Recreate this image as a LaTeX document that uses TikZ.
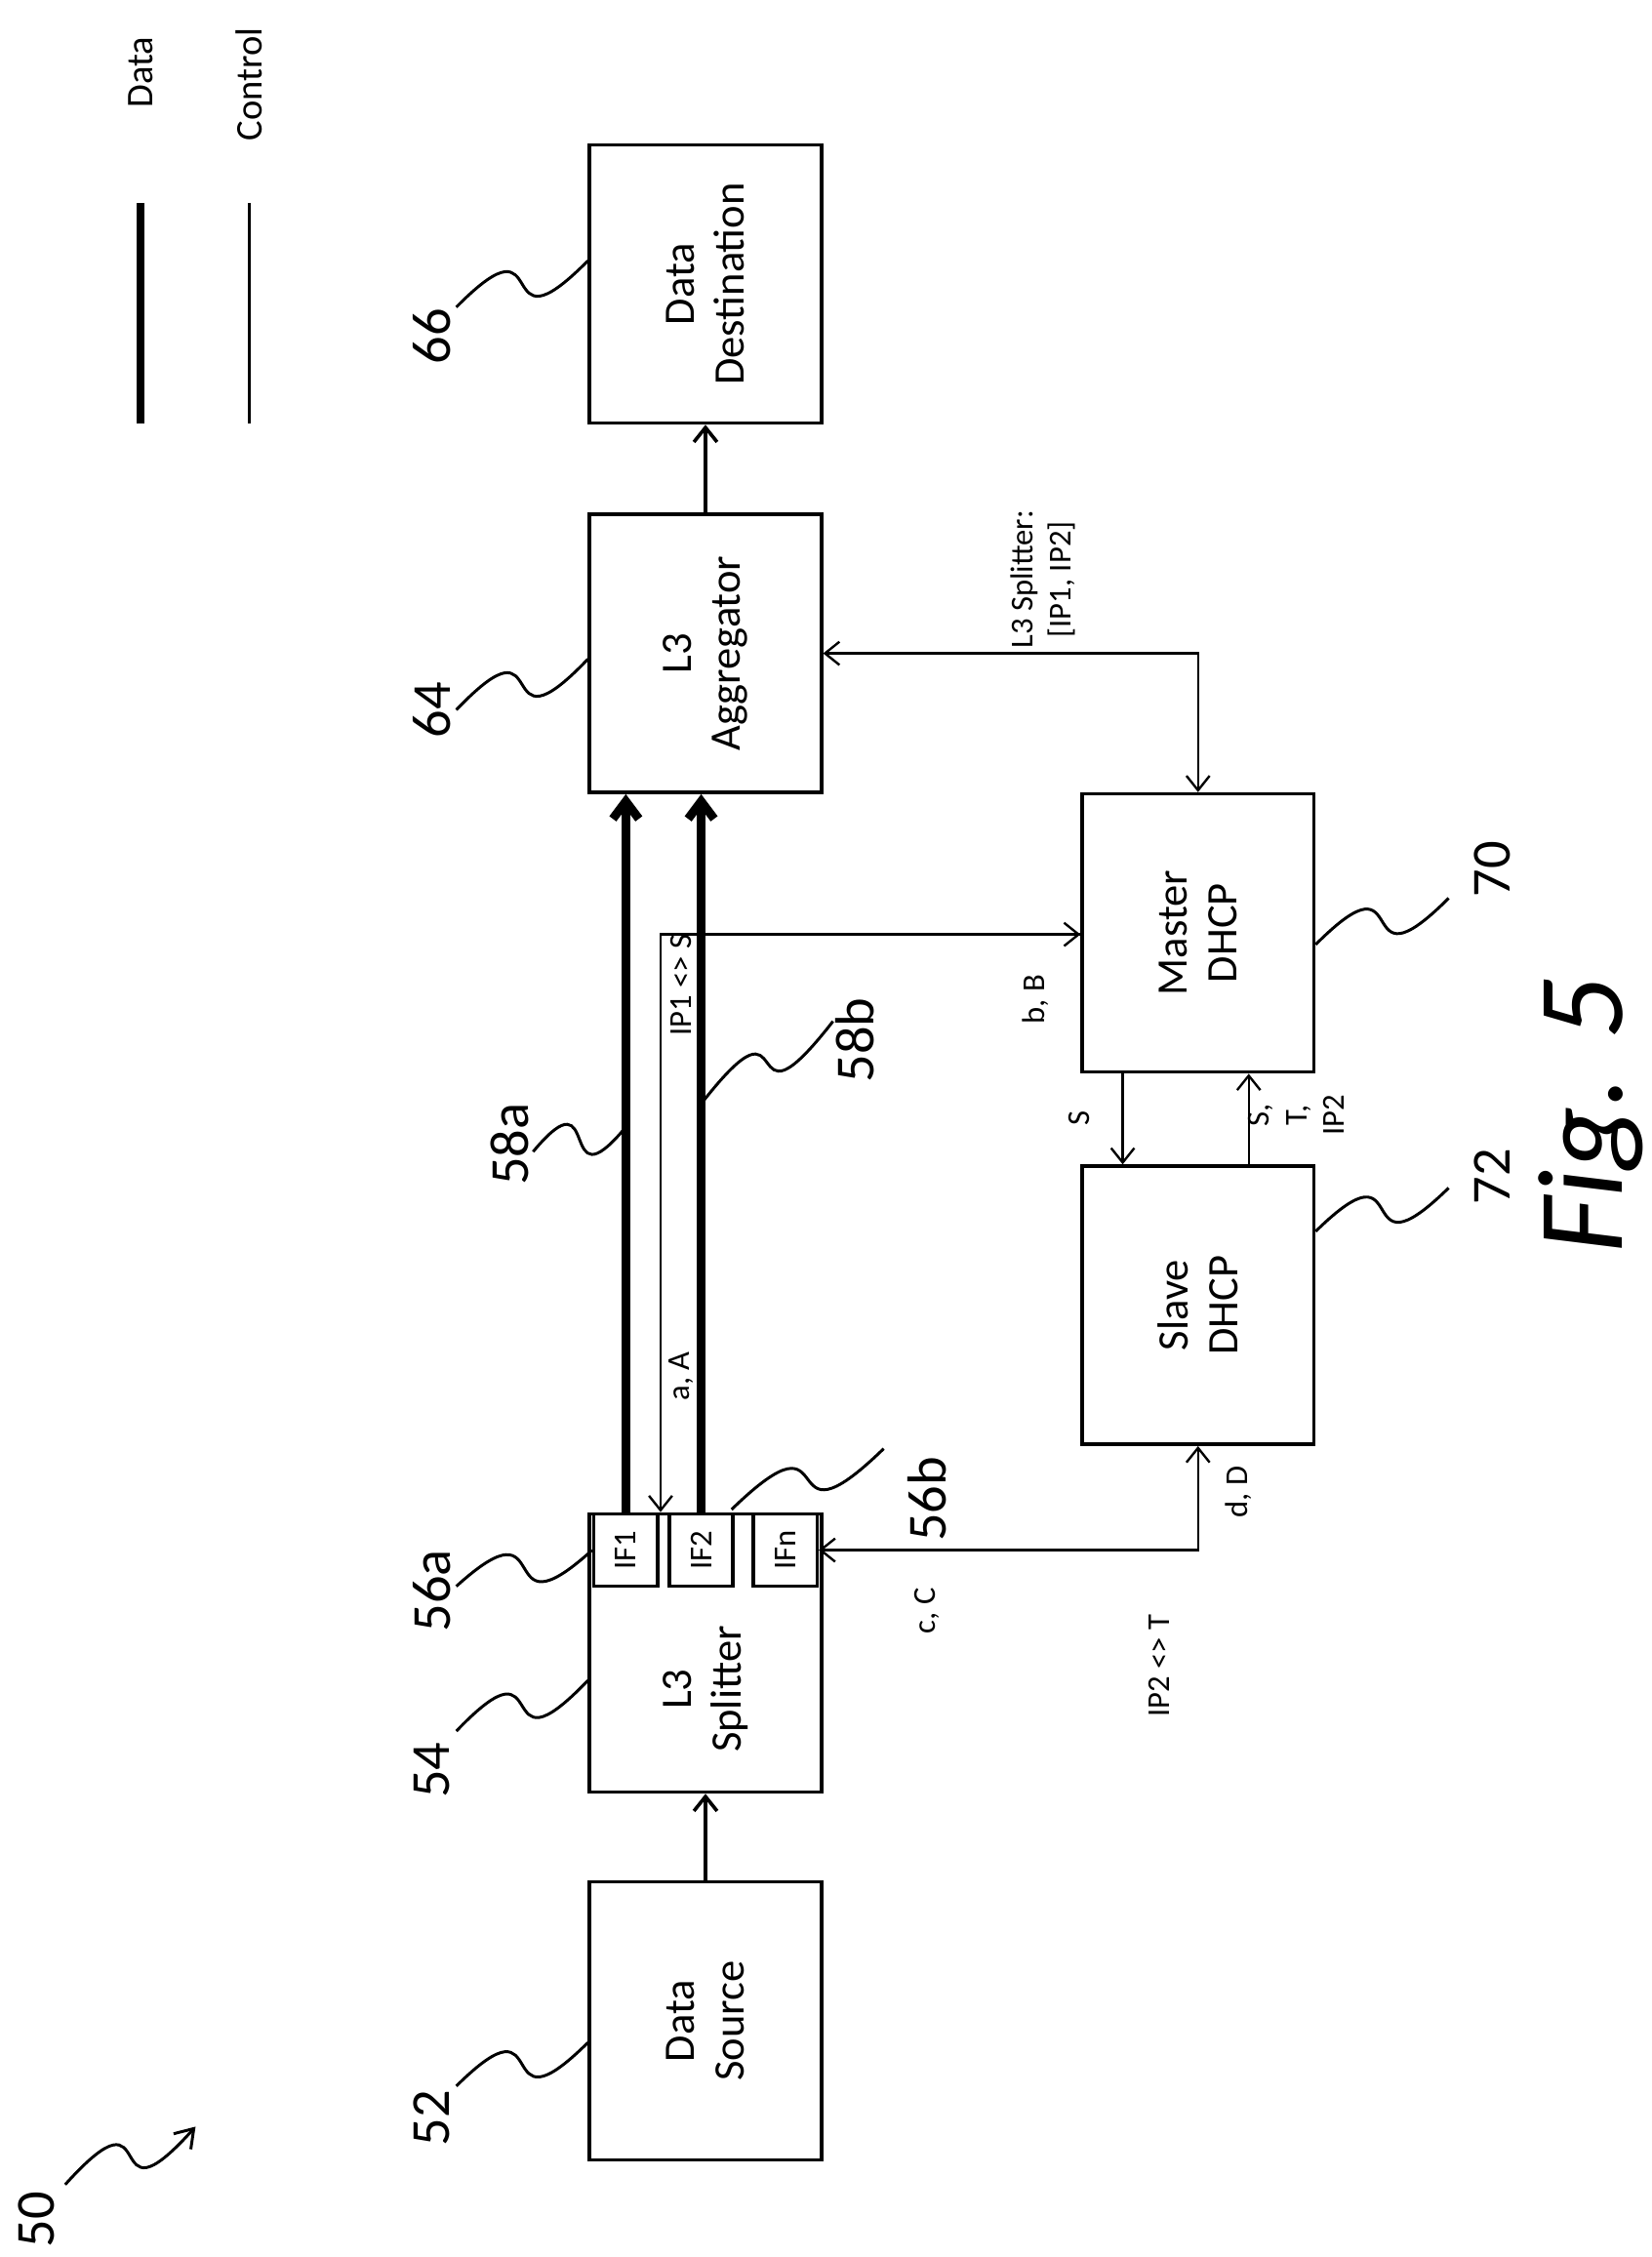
\documentclass[tikz,border=0pt]{standalone}
\usepackage{fontspec}
\setmainfont{Carlito}
\usetikzlibrary{arrows.meta,calc}
\tikzset{
	box/.style={draw,line width=1.2pt,minimum width=80pt,minimum height=96pt,inner sep=0pt},
	ifbox/.style={draw,line width=1.2pt,minimum width=22pt,minimum height=25pt,inner sep=0pt},
	txt/.style={rotate=90,align=center,font=\fontsize{15}{17}\selectfont},
	lbl/.style={rotate=90,align=center,font=\fontsize{11}{13}\selectfont},
	num/.style={rotate=90,font=\fontsize{19}{21}\selectfont},
	data/.style={line width=3pt,-{Straight Barb[length=6pt,width=9pt]}},
	ctrl/.style={line width=0.8pt,-{Straight Barb[length=5pt,width=8pt]}},
	mid/.style={line width=1.2pt,-{Straight Barb[length=5pt,width=8pt]}},
	squig/.style={line width=1pt,to path={.. controls ($(\tikztostart)!0.75!(\tikztotarget)+(0,-45)$) and ($(\tikztostart)!0.25!(\tikztotarget)+(0,45)$) .. (\tikztotarget)}}
}
\begin{document}
\begin{tikzpicture}[x=0.5pt,y=-0.5pt]
	\useasboundingbox (0,0) rectangle (1140,1558);
	% legend
	\draw[line width=3pt] (97,140) -- (97,292);
	\draw[line width=0.8pt] (172,140) -- (172,292);
	\node[lbl,font=\fontsize{13}{15}\selectfont] (legd) at (97,50) {Data};
	\node[lbl,font=\fontsize{13}{15}\selectfont] (legc) at (172,58) {Control};
	% boxes
	\node[box] (src) at (487,1395) {};
	\node[txt] at (src) {Data\\Source};
	\node[box] (spl) at (487,1141) {};
	\node[txt] at ($(spl)+(0,25)$) {L3\\Splitter};
	\node[ifbox] (ifa) at (432,1070) {};
	\node[lbl] at (ifa) {IF1};
	\node[ifbox] (ifb) at (484,1070) {};
	\node[lbl] at (ifb) {IF2};
	\node[ifbox] (ifn) at (542,1070) {};
	\node[lbl] at (ifn) {IFn};
	\node[box] (agg) at (487,451) {};
	\node[txt] at (agg) {L3\\Aggregator};
	\node[box] (dst) at (487,196) {};
	\node[txt] at (dst) {Data\\Destination};
	\node[box] (mst) at (827,644) {};
	\node[txt] at (mst) {Master\\DHCP};
	\node[box] (slv) at (827,901) {};
	\node[txt] at (slv) {Slave\\DHCP};
	% data paths
	\draw[mid] (src.north) -- (spl.south);
	\draw[mid] (agg.north) -- (dst.south);
	\draw[data] (ifa.north) -- (ifa.north |- agg.south);
	\draw[data] (ifb.north) -- (ifb.north |- agg.south);
	% control paths
	\coordinate (c1) at (456,645);
	\draw[ctrl] (mst.west |- c1) -- (c1) -- (c1 |- ifa.north);
	\draw[ctrl] (c1) -- (mst.west |- c1);
	\draw[ctrl,{Straight Barb[length=5pt,width=8pt]}-{Straight Barb[length=5pt,width=8pt]}] (agg.east) -| (mst.north);
	\draw[ctrl,{Straight Barb[length=5pt,width=8pt]}-{Straight Barb[length=5pt,width=8pt]}] (ifn.east) -| (slv.south);
	\draw[ctrl] ($(mst.south)+(-52,0)$) -- ($(slv.north)+(-52,0)$);
	\draw[ctrl] ($(slv.north)+(35,0)$) -- ($(mst.south)+(35,0)$);
	% labels
	\node[lbl] at (470,680) {IP1 <> S};
	\node[lbl] at (470,950) {a, A};
	\node[lbl] at (715,690) {b, B};
	\node[lbl] at (720,400) {L3 Splitter:\\{}[IP1, IP2]};
	\node[lbl] at (640,1112) {c, C};
	\node[lbl] at (800,1150) {IP2 <> T};
	\node[lbl] at (855,1030) {d, D};
	\node[lbl] at (745,772) {S};
	\node[lbl] at (895,770) {S,\\T,\\IP2};
	% reference numerals
	\node[num] (n66) at (298,232) {66};
	\draw[squig] (315,212) to (dst.west |- 0,180);
	\node[num] (n64) at (298,490) {64};
	\draw[squig] (315,490) to (agg.west |- 0,455);
	\node[num] (n54) at (298,1222) {54};
	\draw[squig] (315,1195) to (spl.west |- 0,1160);
	\node[num] (n56a) at (298,1098) {56a};
	\draw[squig] (315,1095) to (ifa.west);
	\node[num] (n52) at (298,1462) {52};
	\draw[squig] (315,1440) to (src.west |- 0,1410);
	\node[num] (n58a) at (352,790) {58a};
	\draw[squig] (368,795) to (432,778);
	\node[num] (n58b) at (590,718) {58b};
	\draw[squig] (484,762) to (575,705);
	\node[num] (n56b) at (640,1035) {56b};
	\draw[squig] (505,1042) to (610,1000);
	\node[num] (n70) at (1030,600) {70};
	\draw[squig] (mst.east |- 0,652) to (1000,620);
	\node[num] (n72) at (1030,812) {72};
	\draw[squig] (slv.east |- 0,850) to (1000,820);
	\node[num] (n50) at (25,1532) {50};
	\draw[squig,-{Straight Barb[length=6pt,width=8pt]}] (45,1508) to (135,1468);
	\node[rotate=90,font=\fontsize{42}{44}\selectfont\itshape] (fig) at (1098,770) {Fig. 5};
\end{tikzpicture}
\end{document}
